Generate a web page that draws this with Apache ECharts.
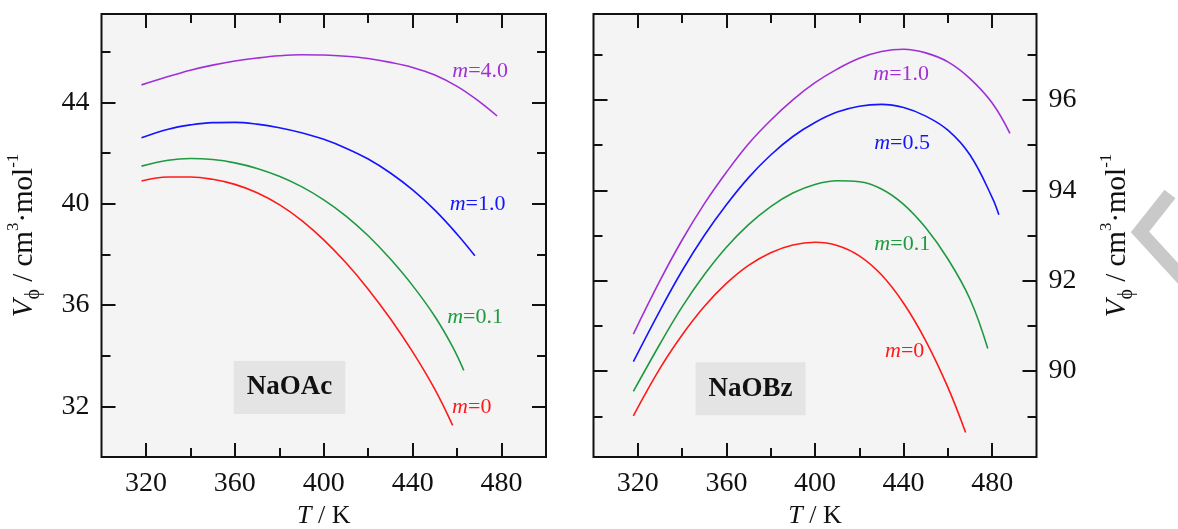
<!DOCTYPE html>
<html>
<head>
<meta charset="utf-8">
<script src="https://cdn.jsdelivr.net/npm/echarts@6/dist/echarts.min.js"></script>
<style>
html, body { margin: 0; padding: 0; background: #fff; }
#chart { width: 1178px; height: 529px; }
</style>
</head>
<body>
<div id="chart"></div>
<script>
// NaOAc (left panel)
var oacTemp0 = [318, 330, 340, 350, 360, 370, 380, 390, 400, 410, 420, 430, 440, 450, 458];
var oacV0 = [40.90, 41.06, 41.06, 40.97, 40.77, 40.44, 39.97, 39.35, 38.58, 37.67, 36.63, 35.46, 34.15, 32.67, 31.25];
var oacTemp01 = [318, 330, 340, 350, 360, 370, 380, 390, 400, 410, 420, 430, 440, 450, 458, 463];
var oacV01 = [41.49, 41.72, 41.79, 41.75, 41.62, 41.40, 41.09, 40.68, 40.16, 39.52, 38.74, 37.82, 36.77, 35.55, 34.35, 33.42];
var oacTemp10 = [318, 330, 340, 350, 360, 370, 380, 390, 400, 410, 420, 430, 440, 450, 460, 468];
var oacV10 = [42.61, 42.95, 43.12, 43.21, 43.22, 43.15, 43.01, 42.81, 42.55, 42.20, 41.77, 41.22, 40.55, 39.75, 38.80, 37.95];
var oacTemp40 = [318, 330, 340, 350, 360, 370, 380, 390, 400, 410, 420, 430, 440, 450, 460, 470, 478];
var oacV40 = [44.70, 45.03, 45.28, 45.48, 45.64, 45.76, 45.85, 45.89, 45.88, 45.83, 45.74, 45.59, 45.39, 45.09, 44.64, 44.04, 43.47];

// NaOBz (right panel)
var obzTemp0 = [318, 330, 340, 350, 360, 370, 380, 390, 400, 410, 420, 430, 440, 450, 460, 468];
var obzV0 = [89.01, 90.06, 90.80, 91.43, 91.94, 92.34, 92.62, 92.79, 92.85, 92.78, 92.55, 92.13, 91.50, 90.67, 89.64, 88.64];
var obzTemp01 = [318, 330, 340, 350, 360, 370, 380, 390, 400, 410, 420, 430, 440, 450, 460, 470, 478];
var obzV01 = [89.55, 90.60, 91.42, 92.13, 92.74, 93.24, 93.64, 93.94, 94.13, 94.21, 94.19, 94.03, 93.69, 93.17, 92.48, 91.59, 90.50];
var obzTemp05 = [318, 330, 340, 350, 360, 370, 380, 390, 400, 410, 420, 430, 440, 450, 460, 470, 480, 483];
var obzV05 = [90.21, 91.34, 92.22, 93.00, 93.68, 94.28, 94.78, 95.19, 95.50, 95.73, 95.86, 95.90, 95.83, 95.64, 95.33, 94.78, 93.84, 93.46];
var obzTemp10 = [318, 330, 340, 350, 360, 370, 380, 390, 400, 410, 420, 430, 440, 450, 460, 470, 480, 488];
var obzV10 = [90.82, 92.00, 92.90, 93.70, 94.40, 95.03, 95.55, 96.00, 96.38, 96.68, 96.92, 97.07, 97.12, 97.04, 96.84, 96.47, 95.93, 95.26];

// ticks and labels
var xMajor = [320, 360, 400, 440, 480];
var xMinor = [340, 380, 420, 460];
var oacYMajor = [32, 36, 40, 44];
var oacYMinor = [34, 38, 42, 46];
var obzYMajor = [90, 92, 94, 96];
var obzYMinor = [89, 91, 93, 95, 97];

var FONT = "'Liberation Serif', 'Times New Roman', serif";
var C_RED = '#ff1a1a', C_GREEN = '#1f9a40', C_BLUE = '#1414ff', C_PURPLE = '#a030d6';

function pairs(ts, vs) {
    return ts.map(function(t, i) { return [t, vs[i]]; });
}

var yNameRich = {
    i: { fontStyle: 'italic', fontSize: 29, fontFamily: FONT, color: '#111', lineHeight: 38 },
    n: { fontSize: 29, fontFamily: FONT, color: '#111', lineHeight: 38 },
    sub: { fontSize: 20, fontFamily: FONT, color: '#111', verticalAlign: 'bottom', lineHeight: 38 },
    sup: { fontSize: 17, fontFamily: FONT, color: '#111', verticalAlign: 'top', lineHeight: 38 }
};
var yName = '{i|V}{sub|\u03d5}{n| / cm}{sup|3}{n|\u00b7mol}{sup|-1}';

function tickAxis(grid, pos, vals, len, min, max) {
    return {
        gridIndex: grid, type: 'value', position: pos, min: min, max: max,
        axisLine: { show: false, onZero: false },
        splitLine: { show: false },
        axisTick: { show: true, inside: true, length: len, customValues: vals,
            lineStyle: { color: '#111', width: 2 } },
        axisLabel: { show: false }
    };
}

function withLabels(ax, vals, margin) {
    ax.axisLabel = { show: true, customValues: vals, margin: margin, fontSize: 28,
        fontFamily: FONT, color: '#111' };
    return ax;
}

var xAxes = [], yAxes = [];
[0, 1].forEach(function(g) {
    var bx = withLabels(tickAxis(g, 'bottom', xMajor, 14, 300, 500), xMajor, 13);
    bx.name = '{i|T}{n| / K}';
    bx.nameLocation = 'middle';
    bx.nameGap = 38;
    bx.nameTextStyle = { fontSize: 26, fontFamily: FONT, color: '#111',
        rich: { i: { fontStyle: 'italic', fontSize: 26, fontFamily: FONT, color: '#111' },
                n: { fontSize: 26, fontFamily: FONT, color: '#111' } } };
    xAxes.push(bx,
        tickAxis(g, 'bottom', xMinor, 9, 300, 500),
        tickAxis(g, 'top', xMajor, 14, 300, 500),
        tickAxis(g, 'top', xMinor, 9, 300, 500));
});

// left panel y axes: 0..3, right panel y axes: 4..7
var yl = withLabels(tickAxis(0, 'left', oacYMajor, 14, 30, 47.5), oacYMajor, 12);
yl.name = yName; yl.nameLocation = 'middle'; yl.nameGap = 58;
yl.nameTextStyle = { fontSize: 29, fontFamily: FONT, color: '#111', rich: yNameRich };
yAxes.push(yl,
    tickAxis(0, 'left', oacYMinor, 9, 30, 47.5),
    tickAxis(0, 'right', oacYMajor, 14, 30, 47.5),
    tickAxis(0, 'right', oacYMinor, 9, 30, 47.5));

var yr = withLabels(tickAxis(1, 'right', obzYMajor, 14, 88.1, 97.9), obzYMajor, 12);
yr.name = yName; yr.nameLocation = 'middle'; yr.nameGap = 62;
yr.nameTextStyle = { fontSize: 29, fontFamily: FONT, color: '#111', rich: yNameRich };
yAxes.push(tickAxis(1, 'left', obzYMajor, 14, 88.1, 97.9),
    tickAxis(1, 'left', obzYMinor, 9, 88.1, 97.9),
    yr,
    tickAxis(1, 'right', obzYMinor, 9, 88.1, 97.9));

function tag(coord, text, color) {
    return {
        coord: coord, symbol: 'circle', symbolSize: 0,
        label: { show: true, position: 'inside', formatter: text,
            rich: {
                i: { fontStyle: 'italic', fontSize: 22, fontFamily: FONT, color: color },
                n: { fontSize: 22, fontFamily: FONT, color: color }
            } }
    };
}

function boxTag(coord, text) {
    return {
        coord: coord, symbol: 'circle', symbolSize: 0,
        label: { show: true, position: 'inside', formatter: text, fontSize: 27,
            fontWeight: 'bold', fontFamily: FONT, color: '#111', lineHeight: 29,
            backgroundColor: '#e4e4e4', padding: [12, 13] }
    };
}

function curve(name, xi, yi, data, color, marks) {
    return {
        name: name, type: 'line', xAxisIndex: xi, yAxisIndex: yi,
        data: data, smooth: 0.4, showSymbol: false, symbol: 'none',
        lineStyle: { color: color, width: 1.6 },
        itemStyle: { color: color },
        markPoint: { silent: true, animation: false, data: marks }
    };
}

var option = {
    backgroundColor: '#fff',
    animation: false,
    grid: [
        { left: 101.5, top: 14, width: 444.5, height: 443, show: true,
          backgroundColor: '#f4f4f4', borderColor: '#111', borderWidth: 2, outerBoundsMode: 'none' },
        { left: 593.5, top: 14, width: 443, height: 443, show: true,
          backgroundColor: '#f4f4f4', borderColor: '#111', borderWidth: 2, outerBoundsMode: 'none' }
    ],
    xAxis: xAxes,
    yAxis: yAxes,
    series: [
        curve('NaOAc m=0', 0, 0, pairs(oacTemp0, oacV0), C_RED,
            [tag([466.6, 31.95], '{i|m}{n|=0}', C_RED), boxTag([384.6, 32.75], 'NaOAc')]),
        curve('NaOAc m=0.1', 0, 0, pairs(oacTemp01, oacV01), C_GREEN,
            [tag([468.1, 35.54], '{i|m}{n|=0.1}', C_GREEN)]),
        curve('NaOAc m=1.0', 0, 0, pairs(oacTemp10, oacV10), C_BLUE,
            [tag([469.2, 39.97], '{i|m}{n|=1.0}', C_BLUE)]),
        curve('NaOAc m=4.0', 0, 0, pairs(oacTemp40, oacV40), C_PURPLE,
            [tag([470.4, 45.22], '{i|m}{n|=4.0}', C_PURPLE)]),
        curve('NaOBz m=0', 4, 6, pairs(obzTemp0, obzV0), C_RED,
            [tag([440.5, 90.45], '{i|m}{n|=0}', C_RED), boxTag([370.9, 89.61], 'NaOBz')]),
        curve('NaOBz m=0.1', 4, 6, pairs(obzTemp01, obzV01), C_GREEN,
            [tag([439.4, 92.81], '{i|m}{n|=0.1}', C_GREEN)]),
        curve('NaOBz m=0.5', 4, 6, pairs(obzTemp05, obzV05), C_BLUE,
            [tag([439.3, 95.04], '{i|m}{n|=0.5}', C_BLUE)]),
        curve('NaOBz m=1.0', 4, 6, pairs(obzTemp10, obzV10), C_PURPLE,
            [tag([438.9, 96.57], '{i|m}{n|=1.0}', C_PURPLE)])
    ],
    graphic: [{
        type: 'polyline', silent: true,
        shape: { points: [[1170, 194], [1140, 232], [1186, 282]] },
        style: { stroke: '#c9c9c9', lineWidth: 14, fill: null, lineJoin: 'miter' }
    }]
};

var chart = echarts.init(document.getElementById('chart'));
chart.setOption(option);
</script>
</body>
</html>
